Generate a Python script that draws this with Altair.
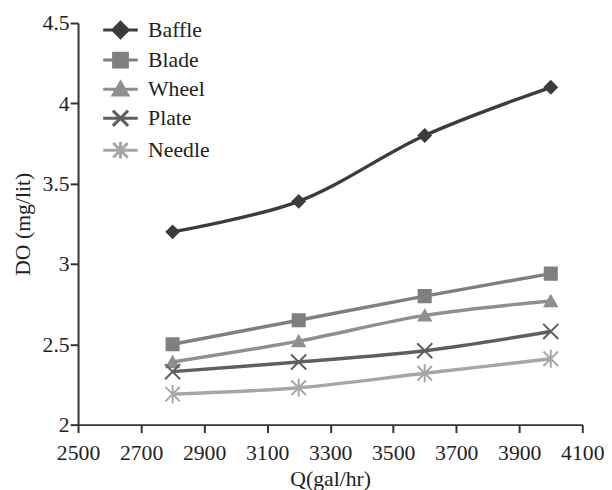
import altair as alt
import pandas as pd

# ---- data ----
series = ["Baffle", "Blade", "Wheel", "Plate", "Needle"]
flow = [2800, 3200, 3600, 4000]
baffle = [3.20, 3.39, 3.80, 4.10]
blade = [2.50, 2.65, 2.80, 2.94]
wheel = [2.39, 2.52, 2.68, 2.77]
plate = [2.33, 2.39, 2.46, 2.58]
needle = [2.19, 2.23, 2.32, 2.41]
x_ticks = [2500, 2700, 2900, 3100, 3300, 3500, 3700, 3900, 4100]
y_ticks = [2, 2.5, 3, 3.5, 4, 4.5]

values = {"Baffle": baffle, "Blade": blade, "Wheel": wheel, "Plate": plate, "Needle": needle}
rows = []
for s in series:
    for q, v in zip(flow, values[s]):
        rows.append({"series": s, "Q": q, "DO": v})
df = pd.DataFrame(rows)

# ---- styles ----
colors = ["#3c3c3c", "#7f7f7f", "#8f8f8f", "#5f5f5f", "#a6a6a6"]
x_path = "M-1.25,-1.25L1.25,1.25M-1.25,1.25L1.25,-1.25"
star_path = "M-1.2,-1.2L1.2,1.2M-1.2,1.2L1.2,-1.2M0,-1.5L0,1.5"
shapes = ["diamond", "square", "triangle-up", x_path, star_path]

leg_paths = [
    "M-2.5,0L2.5,0M0,-1.1L1.1,0L0,1.1L-1.1,0Z",
    "M-2.5,0L2.5,0M-1,-1L1,-1L1,1L-1,1Z",
    "M-2.5,0L2.5,0M0,-1L1.05,0.85L-1.05,0.85Z",
    "M-2.5,0L2.5,0M-1.1,-1.1L1.1,1.1M-1.1,1.1L1.1,-1.1",
    "M-2.5,0L2.5,0M-1.05,-1.05L1.05,1.05M-1.05,1.05L1.05,-1.05M0,-1.2L0,1.2",
]
shape_expr = "'" + leg_paths[-1] + "'"
for s, p in reversed(list(zip(series[:-1], leg_paths[:-1]))):
    shape_expr = f"datum.value === '{s}' ? '{p}' : " + shape_expr
fill_expr = "'" + colors[-1] + "'"
for s, c in reversed(list(zip(series[:-1], colors[:-1]))):
    fill_expr = f"datum.value === '{s}' ? '{c}' : " + fill_expr

FONT = "Liberation Serif"

xenc = alt.X("Q:Q", scale=alt.Scale(domain=[2500, 4100], nice=False, zero=False),
             axis=alt.Axis(values=x_ticks, format="d", title="Q(gal/hr)",
                           labelPadding=10, titlePadding=6, labelOverlap=False,
                           labelFlush=False, labelFont=FONT, labelFontSize=22))
yenc = alt.Y("DO:Q", scale=alt.Scale(domain=[2, 4.5], nice=False, zero=False),
             axis=alt.Axis(values=y_ticks, format="~g", title="DO (mg/lit)",
                           labelPadding=1, titlePadding=8, labelOverlap=False,
                           labelFlush=False, labelFont=FONT, labelFontSize=22))

stroke_scale = alt.Scale(domain=series, range=colors)

lines = alt.Chart(df).mark_line(interpolate="catmull-rom", strokeWidth=3.5).encode(
    x=xenc, y=yenc,
    stroke=alt.Stroke("series:N", scale=stroke_scale, sort=series,
                      legend=alt.Legend(
                          title=None, orient="none", legendX=32, legendY=-4,
                          padding=0, labelFont=FONT, labelFontSize=22,
                          labelColor="#222222", symbolSize=196, labelOffset=17,
                          rowPadding=3.5, labelLimit=200,
                          symbolType={"expr": shape_expr},
                          symbolFillColor={"expr": fill_expr},
                          symbolStrokeWidth=3, symbolOpacity=1)),
    order=alt.Order("Q:Q"),
)

# fill / shape scales use a data-driven domain (sorted in series order) so that
# they are not merged into the line legend
points = alt.Chart(df).mark_point(opacity=1, strokeWidth=2, size=150).encode(
    x=xenc, y=yenc,
    stroke=alt.Stroke("series:N", scale=stroke_scale, legend=None),
    fill=alt.Fill("series:N", sort=series, scale=alt.Scale(range=colors), legend=None),
    shape=alt.Shape("series:N", sort=series, scale=alt.Scale(range=shapes), legend=None),
)

chart = alt.layer(lines, points).properties(
    width=511, height=407,
    autosize=alt.AutoSizeParams(type="none"),
    padding={"left": 71, "top": 12, "right": 22, "bottom": 63},
    background="white",
).configure_view(stroke=None).configure_axis(
    grid=False, domainColor="#333333", domainWidth=2, tickColor="#333333",
    tickWidth=2, tickSize=8, labelFont=FONT, labelFontSize=22, labelColor="#222222",
    titleFont=FONT, titleFontSize=22, titleFontWeight="normal", titleColor="#222222",
)

chart.save("out.html", embed_options={"renderer": "svg", "actions": False})
